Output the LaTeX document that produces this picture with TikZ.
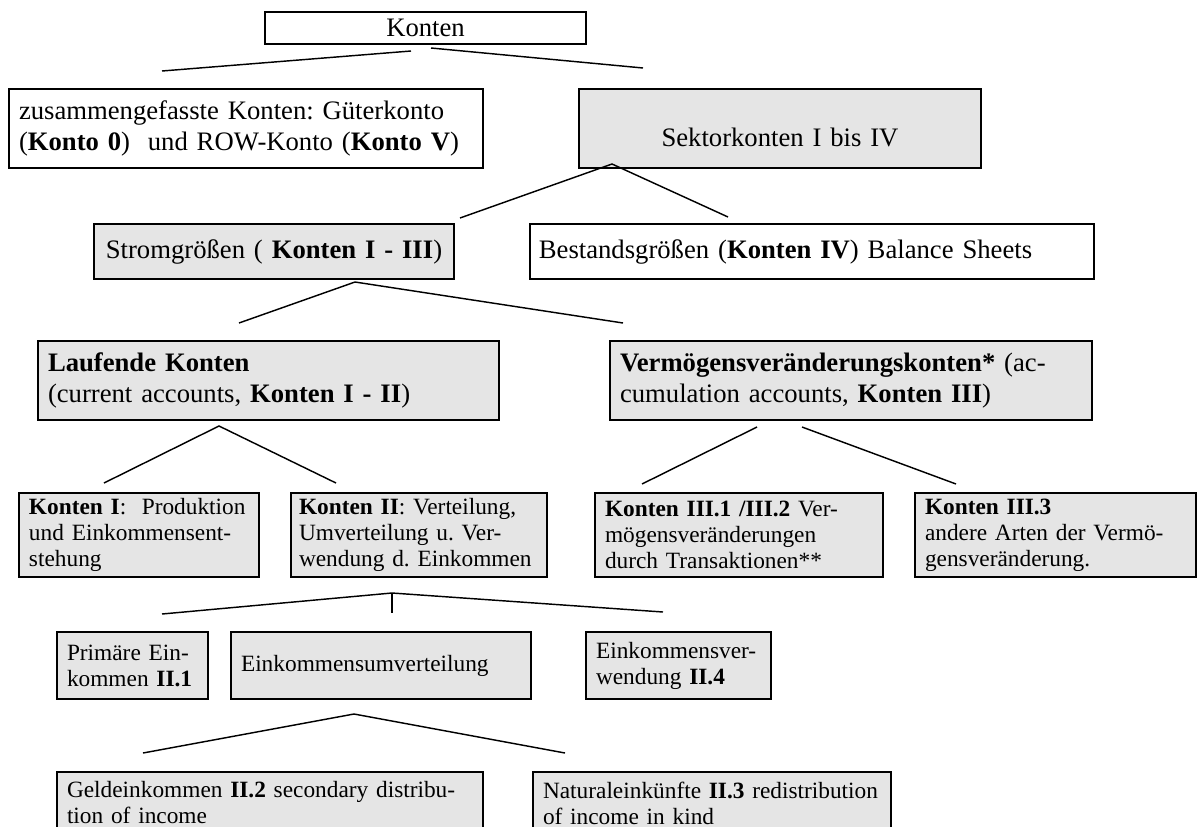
\documentclass[tikz,border=0pt]{standalone}
\usepackage{fontspec}
\setmainfont{Liberation Serif}
\usepackage{tikz}
\usetikzlibrary{positioning}
\definecolor{boxgray}{RGB}{229,229,229}
\frenchspacing

\begin{document}
\begin{tikzpicture}[x=0.45pt, y=-0.45pt,
  box/.style={draw, line width=0.9pt, anchor=north west, inner xsep=4.5pt, inner ysep=0pt, align=left},
  greybox/.style={box, fill=boxgray},
  bigtxt/.style={font=\fontsize{12}{13.95}\selectfont},
  smalltxt/.style={font=\fontsize{10.5}{11.7}\selectfont},
  branch/.style={line width=0.65pt}]
              \useasboundingbox (0,0) rectangle (1197,826);
              \clip (0,0) rectangle (1197,826);

              \node[box, bigtxt, align=center, text width=135.45pt, minimum height=14.4pt] (konten) at (264,11) {Konten};
              \node[box, bigtxt, text width=204.3pt, minimum height=35.55pt] (zus) at (8,88) {zusammengefasste Konten: G\"uterkonto\\(\textbf{Konto 0})~ und ROW-Konto (\textbf{Konto V})};
              \node[greybox, bigtxt, align=center, text width=171.9pt, text height=25.65pt, text depth=9.9pt] (sektor) at (578,88) {Sektorkonten I bis IV};

              \node[greybox, bigtxt, align=center, text width=153pt, minimum height=24.75pt] (strom) at (93,223) {Stromgr\"o\ss en ( \textbf{Konten I - III})};
              \node[box, bigtxt, inner xsep=4pt, text width=245.8pt, minimum height=24.75pt] (bestand) at (529,223) {Bestandsgr\"o\ss en (\textbf{Konten IV}) Balance Sheets};

              \node[greybox, bigtxt, text width=198.45pt, minimum height=35.55pt] (laufend) at (37,340) {\textbf{Laufende Konten}\\(current accounts, \textbf{Konten I - II})};
              \node[greybox, bigtxt, text width=207.9pt, minimum height=35.55pt] (verm) at (609,340) {\textbf{Verm\"ogensver\"anderungskonten*} (ac-\\cumulation accounts, \textbf{Konten III})};

              \node[greybox, smalltxt, text width=99pt, minimum height=37.8pt] (kI) at (18,492) {\textbf{Konten I}:~ Produktion\\und Einkommensent-\\stehung};
              \node[greybox, smalltxt, inner xsep=3.6pt, text width=108pt, minimum height=37.8pt] (kII) at (290,492) {\textbf{Konten II}: Verteilung,\\Umverteilung u. Ver-\\wendung d. Einkommen};
              \node[greybox, smalltxt, text width=120.6pt, minimum height=37.8pt] (kIIIa) at (594,492) {\textbf{Konten III.1 /III.2} Ver-\\m\"ogensver\"anderungen\\durch Transaktionen**};
              \node[greybox, smalltxt, text width=117.45pt, minimum height=37.8pt] (kIIIb) at (914,492) {\textbf{Konten III.3}\\andere Arten der Verm\"o-\\gensver\"anderung.};

              \node[greybox, smalltxt, text width=58.95pt, minimum height=30.15pt] (prim) at (56,631) {Prim\"are Ein-\\kommen \textbf{II.1}};
              \node[greybox, smalltxt, text width=126pt, minimum height=30.15pt] (umvert) at (230,631) {Einkommensumverteilung};
              \node[greybox, smalltxt, text width=74.25pt, minimum height=30.15pt] (verw) at (585,631) {Einkommensver-\\wendung \textbf{II.4}};

              \node[greybox, smalltxt, text width=182.7pt, minimum height=27.9pt] (geld) at (56,771) {Geldeinkommen \textbf{II.2} secondary distribu-\\tion of income};
              \node[greybox, smalltxt, text width=152.1pt, minimum height=27.9pt] (natural) at (532,771) {Naturaleink\"unfte \textbf{II.3} redistribution\\of income in kind};

              \coordinate (konten-l) at (411,51);
              \coordinate (konten-r) at (431,48);
              \coordinate (zus-top) at (162,71);
              \coordinate (sektor-top) at (643,68);
              \coordinate (sektor-bot) at (612,164);
              \coordinate (strom-top) at (460,218);
              \coordinate (bestand-top) at (728,217);
              \coordinate (strom-bot) at (355,282);
              \coordinate (laufend-top) at (239,323);
              \coordinate (verm-top) at (623,323);
              \coordinate (laufend-bot) at (219,426);
              \coordinate (kI-top) at (104,483);
              \coordinate (kII-top) at (336,483);
              \coordinate (verm-bl) at (757,427);
              \coordinate (verm-br) at (802,427);
              \coordinate (kIIIa-top) at (642,484);
              \coordinate (kIIIb-top) at (956,484);
              \coordinate (kII-bot) at (392,593);
              \coordinate (prim-top) at (162,614);
              \coordinate (umvert-top) at (392,613);
              \coordinate (verw-top) at (663,612);
              \coordinate (umvert-bot) at (354,714);
              \coordinate (geld-top) at (143,753);
              \coordinate (natural-top) at (565,753);

              \draw[branch] (konten-l) -- (zus-top);
              \draw[branch] (konten-r) -- (sektor-top);
              \draw[branch] (strom-top) -- (sektor-bot) -- (bestand-top);
              \draw[branch] (laufend-top) -- (strom-bot) -- (verm-top);
              \draw[branch] (kI-top) -- (laufend-bot) -- (kII-top);
              \draw[branch] (verm-bl) -- (kIIIa-top);
              \draw[branch] (verm-br) -- (kIIIb-top);
              \draw[branch] (prim-top) -- (kII-bot) -- (verw-top);
              \draw[branch] (kII-bot) -- (umvert-top);
              \draw[branch] (geld-top) -- (umvert-bot) -- (natural-top);
            \end{tikzpicture}
\end{document}
